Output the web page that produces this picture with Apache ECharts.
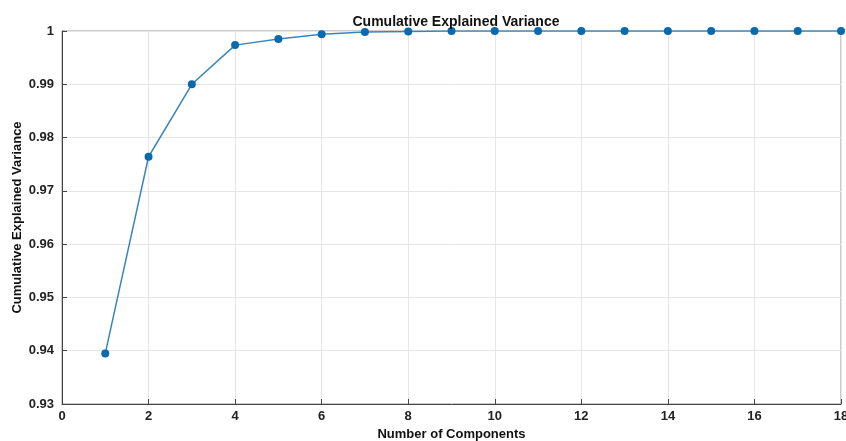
<!DOCTYPE html>
<html>
	<head>
		<meta charset="UTF-8">
		<script type="text/javascript" src="https://cdn.jsdelivr.net/npm/echarts@6/dist/echarts.min.js"></script>
		<title>Cumulative Explained Variance</title>
		<style>
			html, body { margin: 0; padding: 0; background: #fff; }
			#graph { width: 846px; height: 441px; }
		</style>
	</head>
	<body>
		<div id="graph"></div>
	</body>
	<script>
		var components = [1, 2, 3, 4, 5, 6, 7, 8, 9, 10, 11, 12, 13, 14, 15, 16, 17, 18];
		var cumVariance = [0.9395, 0.9764, 0.9900, 0.99735, 0.9985, 0.9994, 0.9998, 0.9999, 1, 1, 1, 1, 1, 1, 1, 1, 1, 1];
		var yTicks = ['0.93', '0.94', '0.95', '0.96', '0.97', '0.98', '0.99', '1'];

		var font = 'Liberation Sans, Arial, sans-serif';
		var myChart = echarts.init(document.getElementById('graph'));
		var data = components.map(function (c, i) { return [c, cumVariance[i]]; });

		var option = {
			animation: false,
			title: {
				text: 'Cumulative Explained Variance',
				left: 451,
				textAlign: 'center',
				top: 10,
				textStyle: { fontFamily: font, fontWeight: 'bold', fontSize: 14, color: '#111' }
			},
			grid: {
				left: 62, right: 5, top: 31, bottom: 37,
				outerBoundsMode: 'none',
				show: true, borderColor: '#999', borderWidth: 1, backgroundColor: '#fff'
			},
			xAxis: {
				type: 'value',
				min: 0, max: 18, interval: 2,
				name: 'Number of Components',
				nameLocation: 'middle',
				nameGap: 24,
				nameMoveOverlap: false,
				nameTextStyle: { fontFamily: font, fontWeight: 'bold', fontSize: 13, color: '#111' },
				axisLine: { lineStyle: { color: '#444' } },
				axisTick: { inside: true, length: 5, lineStyle: { color: '#444' } },
				axisLabel: { fontFamily: font, fontWeight: 'bold', fontSize: 13, color: '#222', margin: 6 },
				splitLine: { show: true, lineStyle: { color: '#e6e6e6' } }
			},
			yAxis: {
				type: 'value',
				min: 0.93, max: 1, interval: 0.01,
				name: 'Cumulative Explained Variance',
				nameLocation: 'middle',
				nameGap: 38,
				nameMoveOverlap: false,
				nameTextStyle: { fontFamily: font, fontWeight: 'bold', fontSize: 13, color: '#111' },
				axisLine: { show: true, lineStyle: { color: '#444' } },
				axisTick: { show: true, inside: true, length: 5, lineStyle: { color: '#444' } },
				axisLabel: {
					fontFamily: font, fontWeight: 'bold', fontSize: 13, color: '#222', margin: 8,
					formatter: function (v) { return yTicks[Math.round((v - 0.93) * 100)]; }
				},
				splitLine: { show: true, lineStyle: { color: '#e6e6e6' } }
			},
			series: [{
				type: 'line',
				data: data,
				symbol: 'circle',
				symbolSize: 8,
				lineStyle: { color: '#3a86ba', width: 1.5 },
				itemStyle: { color: '#0a6aad' }
			}]
		};
		myChart.setOption(option);
	</script>
</html>
